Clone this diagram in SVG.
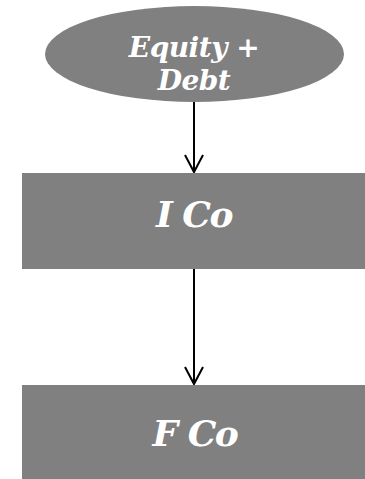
<svg xmlns="http://www.w3.org/2000/svg" width="365" height="479" viewBox="0 0 365 479">
  <style>
    .shape { fill: #808080; }
    .label { fill: #ffffff; font-family: "DejaVu Serif", "Liberation Serif", serif; font-weight: bold; font-style: italic; text-anchor: middle; }
    .edge { stroke: #000000; stroke-width: 2; fill: none; }
  </style>
  <g id="connectors">
    <line class="edge" x1="194" y1="102" x2="194" y2="172"/>
    <path class="edge" d="M185,155 L194,172 L203,155"/>
    <line class="edge" x1="194" y1="269" x2="194" y2="384"/>
    <path class="edge" d="M185,367 L194,384 L203,367"/>
  </g>
  <g id="equity-debt">
    <ellipse class="shape" cx="194.5" cy="54" rx="149.5" ry="48"/>
    <text class="label" x="194" y="57" font-size="28" letter-spacing="-0.5">Equity +</text>
    <text class="label" x="194" y="90" font-size="28" letter-spacing="-0.5">Debt</text>
  </g>
  <g id="i-co">
    <rect class="shape" x="22" y="173" width="343" height="96"/>
    <text class="label" x="194" y="227" font-size="36" letter-spacing="-1.5">I Co</text>
  </g>
  <g id="f-co">
    <rect class="shape" x="22" y="385" width="343" height="94"/>
    <text class="label" x="195" y="446" font-size="36" letter-spacing="-1.5">F Co</text>
  </g>
</svg>
